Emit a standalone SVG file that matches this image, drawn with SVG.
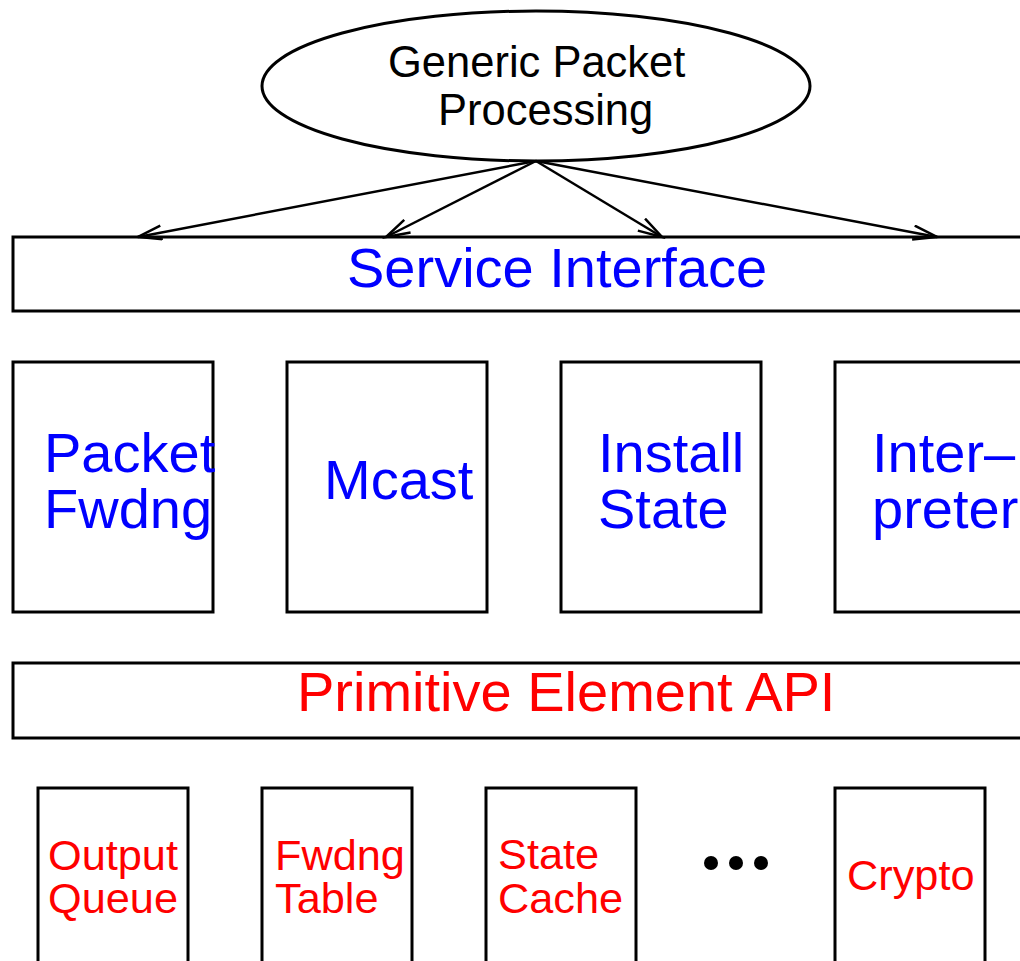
<svg xmlns="http://www.w3.org/2000/svg" width="1020" height="961" viewBox="0 0 1020 961">
<style>
.box{fill:#fff;stroke:#000;stroke-width:3}
.t{font-family:"Liberation Sans",Arial,sans-serif}
.blue{fill:#0000ff;font-size:56px}
.redL{fill:#ff0000;font-size:56px}
.red{fill:#ff0000;font-size:43.3px}
.blk{fill:#000;font-size:43.5px}
.conn{stroke:#000;stroke-width:2.5;fill:none}
</style>
<defs>
<marker id="arr" markerUnits="userSpaceOnUse" markerWidth="30" markerHeight="20" refX="26" refY="8" orient="auto">
<path d="M2,1 L26,8 L2,15" fill="none" stroke="#000" stroke-width="2.5"/>
</marker>
</defs>
<rect width="1020" height="961" fill="#fff"/>
<g id="gpp">
<ellipse cx="536" cy="86" rx="274" ry="75" class="box"/>
<text class="t blk"><tspan x="388" y="77">Generic Packet</tspan><tspan x="438" y="125">Processing</tspan></text>
</g>
<g id="service-interface">
<rect x="13" y="237" width="1030" height="74" class="box"/>
<text class="t blue" x="347" y="287">Service Interface</text>
</g>
<g id="connectors">
<line x1="536" y1="161" x2="138" y2="237" class="conn" marker-end="url(#arr)"/>
<line x1="536" y1="161" x2="386" y2="237" class="conn" marker-end="url(#arr)"/>
<line x1="536" y1="161" x2="662" y2="237" class="conn" marker-end="url(#arr)"/>
<line x1="536" y1="161" x2="937" y2="237" class="conn" marker-end="url(#arr)"/>
</g>
<g id="packet-fwdng">
<rect x="13" y="362" width="200" height="250" class="box"/>
<text class="t blue"><tspan x="44" y="472">Packet</tspan><tspan x="44" y="528">Fwdng</tspan></text>
</g>
<g id="mcast">
<rect x="287" y="362" width="200" height="250" class="box"/>
<text class="t blue" x="324" y="499">Mcast</text>
</g>
<g id="install-state">
<rect x="561" y="362" width="200" height="250" class="box"/>
<text class="t blue"><tspan x="598" y="472">Install</tspan><tspan x="598" y="528">State</tspan></text>
</g>
<g id="interpreter">
<rect x="835" y="362" width="210" height="250" class="box"/>
<text class="t blue"><tspan x="872" y="472">Inter–</tspan><tspan x="872" y="528">preter</tspan></text>
</g>
<g id="primitive-api">
<rect x="13" y="663" width="1030" height="75" class="box"/>
<text class="t redL" x="297" y="711">Primitive Element API</text>
</g>
<g id="output-queue">
<rect x="38" y="788" width="150" height="200" class="box"/>
<text class="t red"><tspan x="48" y="870">Output</tspan><tspan x="48" y="913">Queue</tspan></text>
</g>
<g id="fwdng-table">
<rect x="262" y="788" width="150" height="200" class="box"/>
<text class="t red"><tspan x="275" y="870">Fwdng</tspan><tspan x="275" y="913">Table</tspan></text>
</g>
<g id="state-cache">
<rect x="486" y="788" width="150" height="200" class="box"/>
<text class="t red"><tspan x="498" y="869">State</tspan><tspan x="498" y="913">Cache</tspan></text>
</g>
<g id="ellipsis">
<circle cx="711" cy="863" r="7"/>
<circle cx="736" cy="863" r="7"/>
<circle cx="761" cy="863" r="7"/>
</g>
<g id="crypto">
<rect x="835" y="788" width="150" height="200" class="box"/>
<text class="t red" x="847" y="890">Crypto</text>
</g>
</svg>
